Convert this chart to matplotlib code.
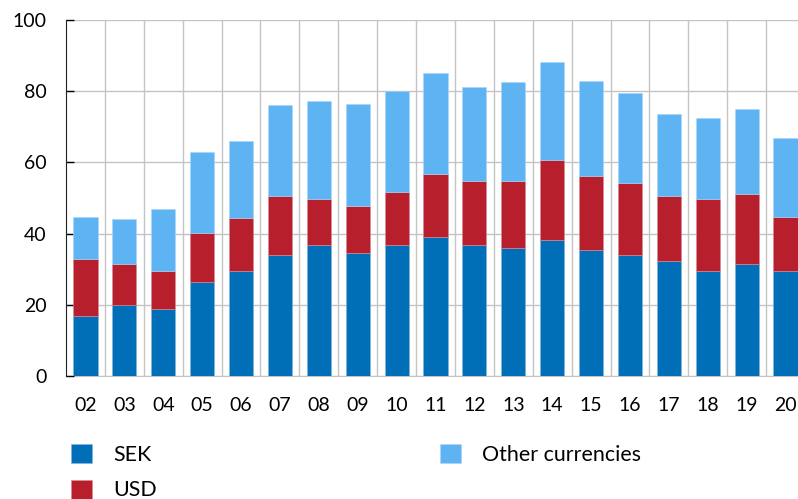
import matplotlib.pyplot as plt
import numpy as np

plt.rcParams['font.family'] = ['Lato', 'DejaVu Sans']

# years (tick labels) and stacked values
years = ['02', '03', '04', '05', '06', '07', '08', '09', '10', '11',
         '12', '13', '14', '15', '16', '17', '18', '19', '20']
sek = [16.9, 19.9, 18.8, 26.3, 29.4, 33.9, 36.7, 34.6, 36.7, 39.0,
       36.7, 36.0, 38.2, 35.3, 33.9, 32.3, 29.6, 31.4, 29.6]
usd = [16.1, 11.7, 10.7, 13.9, 15.0, 16.8, 12.9, 13.1, 14.9, 17.8,
       18.0, 18.9, 22.6, 21.0, 20.2, 18.4, 20.0, 19.8, 15.1]
other = [11.6, 12.4, 17.3, 22.6, 21.6, 25.3, 27.6, 28.6, 28.4, 28.2,
         26.6, 27.6, 27.3, 26.6, 25.5, 22.8, 22.9, 23.8, 22.2]

c_sek = '#006FB8'
c_usd = '#B81F2D'
c_other = '#5EB3F2'

fig = plt.figure(figsize=(7.98, 4.99), dpi=100)
ax = fig.add_axes([66/798, 1-376/499, (805-66)/798, (376-20)/499])

x = np.arange(len(years))
w = 0.62
b1 = ax.bar(x, sek, w, color=c_sek, edgecolor='#7fb6dc', linewidth=0.4, zorder=3, label='SEK')
b2 = ax.bar(x, usd, w, bottom=sek, color=c_usd, edgecolor='#d98a92', linewidth=0.4, zorder=3, label='USD')
base = np.array(sek) + np.array(usd)
b3 = ax.bar(x, other, w, bottom=base, color=c_other, edgecolor='#aad6f7', linewidth=0.4,
            zorder=3, label='Other currencies')

ax.set_xlim(-0.5, len(years) - 0.5)
ax.set_ylim(0, 100)
ax.set_yticks(range(0, 101, 20))
ax.set_xticks(x)
ax.set_xticklabels(years)
ax.set_xticks(x[:-1] + 0.5, minor=True)

ax.grid(axis='y', color='#c4c4c4', linewidth=1, zorder=0)
ax.grid(axis='x', which='minor', color='#c4c4c4', linewidth=1, zorder=0)
ax.tick_params(axis='x', which='both', length=0, pad=15, labelsize=14)
ax.tick_params(axis='y', direction='in', length=6, width=1, pad=14, labelsize=14)

for s in ['top', 'right']:
    ax.spines[s].set_visible(False)
ax.spines['left'].set_color('#222222')
ax.spines['bottom'].set_color('#c4c4c4')
ax.spines['bottom'].set_zorder(1)

leg_kw = dict(loc='upper left', frameon=False, fontsize=15.4,
              handlelength=1.0, handleheight=1.0, handletextpad=1.0,
              labelspacing=0.7, borderpad=0)
leg1 = fig.legend(handles=[b1, b2], bbox_to_anchor=(60/798, 1-433/499), **leg_kw)
leg2 = fig.legend(handles=[b3], bbox_to_anchor=(429/798, 1-433/499), **leg_kw)

fig.savefig('out.png', dpi=100)
